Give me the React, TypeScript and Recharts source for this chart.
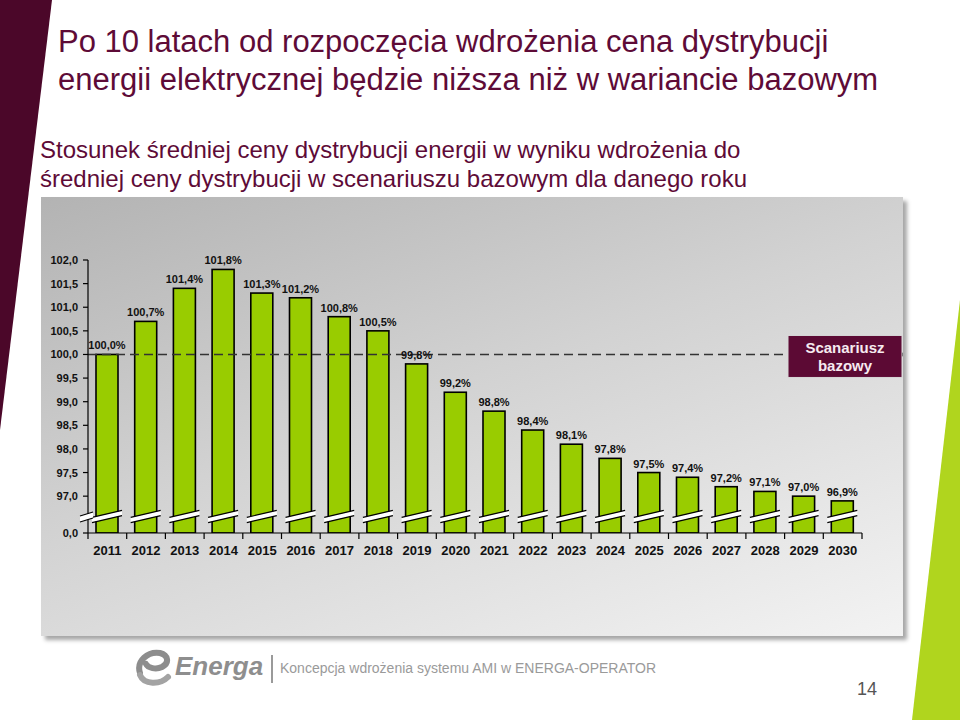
import { BarChart, Bar, XAxis, YAxis, ReferenceLine, LabelList } from "recharts";

const years = [
  "2011", "2012", "2013", "2014", "2015", "2016", "2017", "2018", "2019", "2020",
  "2021", "2022", "2023", "2024", "2025", "2026", "2027", "2028", "2029", "2030",
];
const ratio = [
  100.0, 100.7, 101.4, 101.8, 101.3, 101.2, 100.8, 100.5, 99.8, 99.2,
  98.8, 98.4, 98.1, 97.8, 97.5, 97.4, 97.2, 97.1, 97.0, 96.9,
];
// the axis is broken: its lowest tick stands for 0,0
const axisFloor = 96.22;
const yTicks = [axisFloor, 97, 97.5, 98, 98.5, 99, 99.5, 100, 100.5, 101, 101.5, 102];
const baseline = 100;

const data = years.map((year, i) => ({ year, value: ratio[i] }));

const FONT = "'Liberation Sans', Arial, sans-serif";
const MAROON = "#5e0b37";

const pct = (v: number) => v.toFixed(1).replace(".", ",") + "%";

// bar with the white "break" slash near its foot
function BrokenBar(props: any) {
  const { x, y, width, height } = props;
  if (!height) return null;
  const bottom = y + height;
  const l = x - 4;
  const r = x + width + 4;
  const yl = bottom - 13;
  const yr = bottom - 20;
  const t = 2.6;
  return (
    <g>
      <rect x={x} y={y} width={width} height={height} fill="#99cc00" stroke="#000" strokeWidth={1.6} />
      <polygon points={`${l},${yl + t} ${r},${yr + t} ${r},${yr - t} ${l},${yl - t}`} fill="#fff" />
      <line x1={l} y1={yl - t} x2={r} y2={yr - t} stroke="#000" strokeWidth={1.2} />
      <line x1={l} y1={yl + t} x2={r} y2={yr + t} stroke="#000" strokeWidth={1.2} />
    </g>
  );
}

function YTick(props: any) {
  const { x, y, payload } = props;
  const isFloor = payload.value < 96.5;
  const label = isFloor ? "0,0" : payload.value.toFixed(1).replace(".", ",");
  const ax = x + 10;
  const by = y - 16;
  return (
    <g>
      <text x={x} y={y} dy={4} textAnchor="end" fontFamily={FONT} fontSize={11} fontWeight="bold" fill="#111">
        {label}
      </text>
      {isFloor && (
        <g>
          <polygon points={`${ax - 8},${by + 5} ${ax + 5},${by + 1} ${ax + 5},${by - 5} ${ax - 8},${by - 1}`} fill="#fff" />
          <line x1={ax - 8} y1={by - 1} x2={ax + 5} y2={by - 5} stroke="#000" strokeWidth={1.2} />
          <line x1={ax - 8} y1={by + 5} x2={ax + 5} y2={by + 1} stroke="#000" strokeWidth={1.2} />
        </g>
      )}
    </g>
  );
}

function XTick(props: any) {
  const { x, y, payload, index } = props;
  const half = payload && payload.offset ? payload.offset : 19.35;
  return (
    <g>
      <line x1={x - half} y1={y} x2={x - half} y2={y + 6} stroke="#000" strokeWidth={1.2} />
      {index === years.length - 1 && (
        <line x1={x + half} y1={y} x2={x + half} y2={y + 6} stroke="#000" strokeWidth={1.2} />
      )}
      <text x={x} y={y + 22} textAnchor="middle" fontFamily={FONT} fontSize={13} fontWeight="bold" fill="#111">
        {payload.value}
      </text>
    </g>
  );
}

function BaseLabel(props: any) {
  const { viewBox } = props;
  if (!viewBox) return null;
  const right = viewBox.x + viewBox.width;
  const bx = right - 74;
  const by = viewBox.y - 19;
  return (
    <g>
      <circle cx={right + 41} cy={viewBox.y} r={2} fill="#222" />
      <rect x={bx} y={by} width={114} height={42} fill="#5c0a34" stroke="#d8d8d8" strokeWidth={1} />
      <text x={bx + 57} y={by + 18} textAnchor="middle" fontFamily={FONT} fontSize={15} fontWeight="bold" fill="#f6eaf0">
        Scanariusz
      </text>
      <text x={bx + 57} y={by + 36} textAnchor="middle" fontFamily={FONT} fontSize={15} fontWeight="bold" fill="#f6eaf0">
        bazowy
      </text>
    </g>
  );
}

function EnergaLogo() {
  return (
    <svg width={40} height={40} viewBox="0 0 40 40" style={{ position: "absolute", left: 134, top: 647 }}>
      <path d="M6 26 C2 14 14 4 26 6 C34 8 36 16 28 20 C22 23 14 21 12 17" fill="none" stroke="#8d8d8d" strokeWidth={6} strokeLinecap="round" />
      <path d="M6 28 C10 38 26 38 34 30" fill="none" stroke="#a3a3a3" strokeWidth={6} strokeLinecap="round" />
    </svg>
  );
}

export default function App() {
  return (
    <div
      style={{
        position: "absolute",
        left: 0,
        top: 0,
        width: 960,
        height: 720,
        overflow: "hidden",
        background: "#fff",
        fontFamily: FONT,
      }}
    >
      {/* side decorations */}
      <svg width={960} height={720} style={{ position: "absolute", left: 0, top: 0 }}>
        <polygon points="0,0 52,0 0,430" fill="#4b0729" />
        <polygon points="960,300 960,720 912,720" fill="#b0d51e" />
      </svg>

      {/* Title */}
      <div style={{ position: "absolute", left: 58, top: 23, fontSize: 31, lineHeight: "38px", color: MAROON, whiteSpace: "nowrap" }}>
        Po 10 latach od rozpoczęcia wdrożenia cena dystrybucji
        <br />
        energii elektrycznej będzie niższa niż w wariancie bazowym
      </div>

      <div style={{ position: "absolute", left: 40, top: 134.5, fontSize: 24, lineHeight: "29px", color: MAROON, whiteSpace: "nowrap" }}>
        Stosunek średniej ceny dystrybucji energii w wyniku wdrożenia do
        <br />
        średniej ceny dystrybucji w scenariuszu bazowym dla danego roku
      </div>

      {/* Chart box */}
      <div
        style={{
          position: "absolute",
          left: 41,
          top: 197,
          width: 862,
          height: 439,
          background: "linear-gradient(160deg, #b3b3b3 0%, #d2d2d2 45%, #f3f3f3 100%)",
          boxShadow: "4px 4px 4px rgba(0,0,0,0.35)",
        }}
      >
        <BarChart
          width={862}
          height={439}
          data={data}
          margin={{ top: 63, right: 41, bottom: 73, left: 0 }}
          barSize={22}
        >
          <XAxis
            dataKey="year"
            axisLine={{ stroke: "#000", strokeWidth: 1.2 }}
            tickLine={false}
            tickSize={0}
            tickMargin={0}
            height={30}
            interval={0}
            tick={<XTick />}
          />
          <YAxis
            domain={[axisFloor, 102]}
            ticks={yTicks}
            allowDataOverflow
            width={47}
            axisLine={{ stroke: "#000", strokeWidth: 1.2 }}
            tickLine={{ stroke: "#000", strokeWidth: 1.2 }}
            tickSize={5}
            tickMargin={5}
            interval={0}
            tick={<YTick />}
          />
          <Bar dataKey="value" shape={<BrokenBar />} isAnimationActive={false}>
            <LabelList
              dataKey="value"
              position="top"
              offset={5}
              formatter={(v: any) => pct(Number(v))}
              style={{ fontFamily: FONT, fontSize: 11, fontWeight: "bold", fill: "#111" }}
            />
          </Bar>
          <ReferenceLine
            y={baseline}
            stroke="#333"
            strokeWidth={1.5}
            strokeDasharray="9 5"
            label={<BaseLabel />}
          />
        </BarChart>
      </div>

      {/* Footer */}
      <EnergaLogo />
      <div
        style={{
          position: "absolute",
          left: 175,
          top: 650,
          fontSize: 26,
          lineHeight: "32px",
          fontWeight: "bold",
          fontStyle: "italic",
          color: "#8e8e8e",
        }}
      >
        Energa
      </div>
      <div style={{ position: "absolute", left: 271, top: 655, width: 2, height: 28, background: "#9a9a9a" }} />
      <div style={{ position: "absolute", left: 280, top: 659, fontSize: 14, lineHeight: "18px", color: "#9a9a9a", whiteSpace: "nowrap" }}>
        Koncepcja wdrożenia systemu AMI w ENERGA-OPERATOR
      </div>
      <div style={{ position: "absolute", left: 857, top: 678, fontSize: 18, lineHeight: "22px", color: "#555" }}>14</div>
    </div>
  );
}
